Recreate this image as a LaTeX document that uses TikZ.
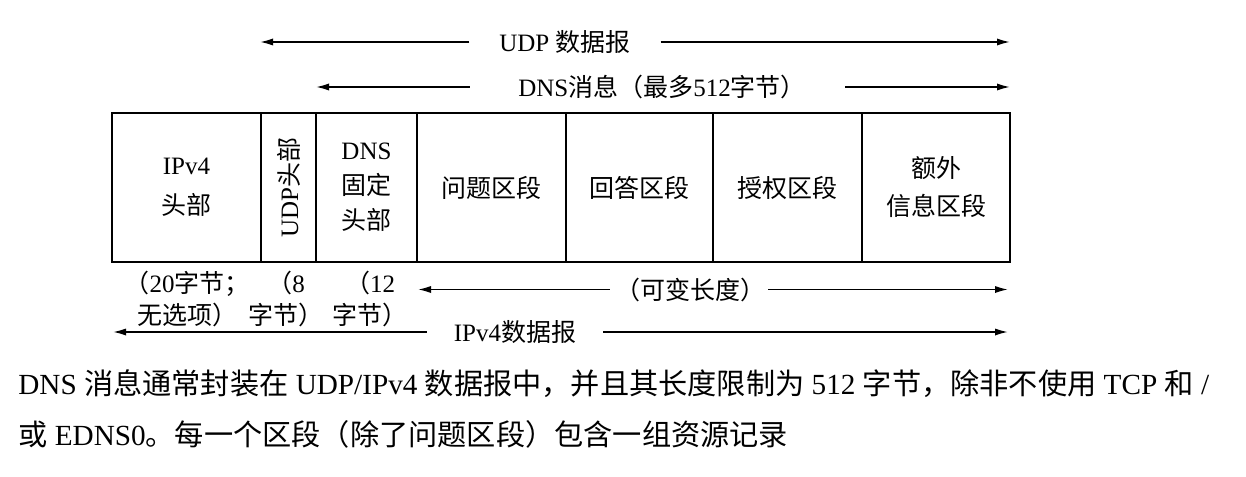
\documentclass[tikz,border=0pt]{standalone}
\usepackage{fontspec}
\setmainfont{Liberation Serif}
\newfontfamily\cjk{Noto Sans CJK SC}
\newcommand\zh[1]{{\cjk #1}}
\usetikzlibrary{arrows.meta}
\begin{document}
\begin{tikzpicture}[x=0.5pt,y=-0.5pt,
  cell/.style={draw, line width=0.95pt, inner sep=0pt, outer sep=0pt,
    minimum height=74.5pt, align=center, font=\fontsize{12.5}{20}\selectfont},
  lbl/.style={inner ysep=0pt, font=\fontsize{12.5}{16}\selectfont},
  arr/.style={line width=0.85pt, -{Latex[length=6.5pt,width=3.6pt]}},
  capline/.style={anchor=west, inner sep=0pt, font=\fontsize{14.6}{18}\selectfont}]
\useasboundingbox (0,0) rectangle (1246,476);
\fill[white] (0,0) rectangle (1246,476);

% packet cells
\node[cell, minimum width=74.5pt] (ipv4) at (186.5,187.5) {IPv4\\\zh{头部}};
\node[cell, rotate=90, minimum width=74.5pt, minimum height=27.5pt] (udph) at (288.5,187.5) {UDP\zh{头部}};
\node[cell, minimum width=50.5pt, font=\fontsize{12.5}{17.5}\selectfont] (dnsh) at (366.5,187.5) {DNS\\\zh{固定}\\\zh{头部}};
\node[cell, minimum width=74.5pt] (q) at (491.5,187.5) {\zh{问题区段}};
\node[cell, minimum width=73.5pt] (ans) at (639.5,187.5) {\zh{回答区段}};
\node[cell, minimum width=74.5pt] (auth) at (787.5,187.5) {\zh{授权区段}};
\node[cell, minimum width=74pt, font=\fontsize{12.5}{19}\selectfont] (add) at (936,187.5) {\zh{额外}\\\zh{信息区段}};

% UDP datagram
\coordinate (udpL) at (260,42);
\coordinate (udpR) at (1010,42);
\node[lbl, inner xsep=14.75pt] (udpT) at (565,42) {UDP \zh{数据报}};
\draw[arr] (udpT.west) -- (udpL);
\draw[arr] (udpT.east) -- (udpR);

% DNS message
\coordinate (dnsL) at (316,87);
\coordinate (dnsR) at (1010,87);
\node[lbl, inner xsep=0pt] (dnsT) at (662,87) {DNS\zh{消息（最多}512\zh{字节）}};
\draw[arr] ([xshift=-24pt]dnsT.west) -- (dnsL);
\draw[arr] ([xshift=19.5pt]dnsT.east) -- (dnsR);

% sizes under cells
\node[lbl, align=center] (n20) at (187,299) {\zh{（}20\zh{字节；}\\\zh{无选项）}};
\node[lbl, align=center] (n8) at (286,299) {\zh{（}8\\\zh{字节）}};
\node[lbl, align=center] (n12) at (370,299) {\zh{（}12\\\zh{字节）}};

% variable length
\coordinate (varL) at (418,289.5);
\coordinate (varR) at (1008,289.5);
\node[lbl, inner xsep=0pt] (varT) at (690,289.5) {\zh{（可变长度）}};
\draw[arr] ([xshift=-2.5pt]varT.west) -- (varL);
\draw[arr] ([xshift=1.5pt]varT.east) -- (varR);

% IPv4 datagram
\coordinate (ipL) at (113,332);
\coordinate (ipR) at (1008,332);
\node[lbl, inner xsep=13.25pt] (ipT) at (515,332) {IPv4\zh{数据报}};
\draw[arr] (ipT.west) -- (ipL);
\draw[arr] (ipT.east) -- (ipR);

% caption
\node[capline] (c1) at (18,384) {DNS \zh{消息通常封装在} UDP/IPv4 \zh{数据报中，并且其长度限制为} 512 \zh{字节，除非不使用} TCP \zh{和} /};
\node[capline] (c2) at (18,434) {\zh{或} EDNS0\zh{。每一个区段（除了问题区段）包含一组资源记录}};
\end{tikzpicture}
\end{document}
